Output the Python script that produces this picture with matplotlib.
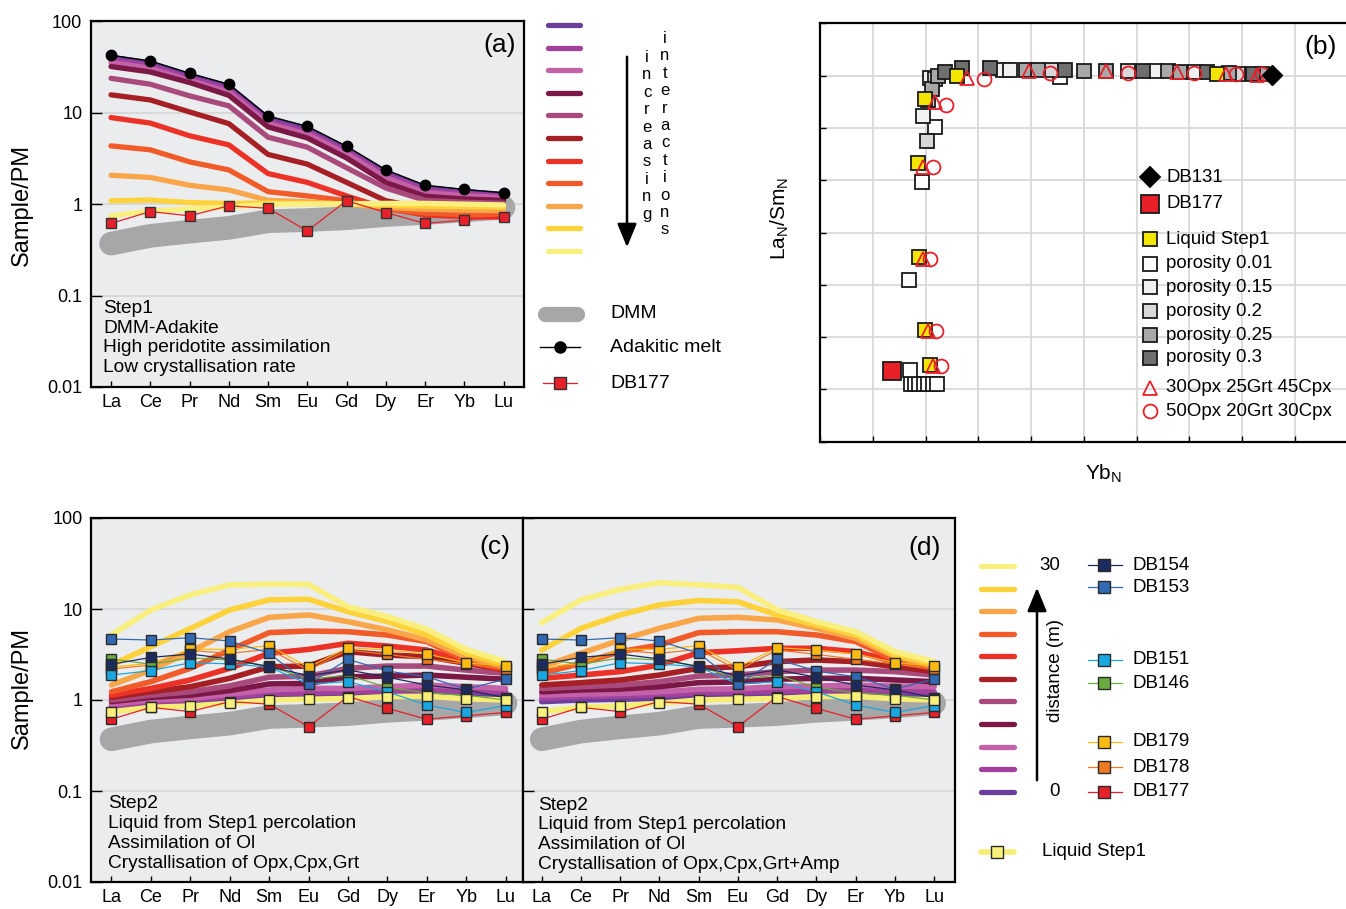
import matplotlib
matplotlib.use('Agg')
import matplotlib.pyplot as plt
from matplotlib.ticker import NullLocator

plt.rcParams['font.family'] = ['Liberation Sans', 'DejaVu Sans']
plt.rcParams['mathtext.fontset'] = 'custom'
plt.rcParams['mathtext.rm'] = 'Liberation Sans'

W, H = 1346, 909

ree = ['La', 'Ce', 'Pr', 'Nd', 'Sm', 'Eu', 'Gd', 'Dy', 'Er', 'Yb', 'Lu']

# ---- spider data (normalised to primitive mantle) ----
dmm = [0.37, 0.45, 0.50, 0.55, 0.65, 0.67, 0.70, 0.76, 0.80, 0.85, 0.92]
adakite = [42.5, 36.8, 27.0, 20.5, 9.2, 7.1, 4.3, 2.37, 1.61, 1.45, 1.33]
db177 = [0.615, 0.83, 0.745, 0.96, 0.90, 0.51, 1.09, 0.81, 0.615, 0.67, 0.73]
db178 = [2.19, 2.42, 3.5, 3.26, 3.6, 2.13, 3.54, 3.17, 2.8, 2.49, 2.17]
db179 = [2.3, 2.53, 3.6, 3.6, 3.95, 2.29, 3.76, 3.54, 3.2, 2.57, 2.36]
db146 = [2.82, 2.47, 2.9, 2.75, 2.36, 1.69, 1.88, 1.37, 1.2, 1.13, 1.0]
db151 = [1.88, 2.10, 2.57, 2.5, 2.3, 1.5, 1.59, 1.23, 0.88, 0.73, 0.87]
db153 = [4.68, 4.56, 4.84, 4.45, 3.26, 1.50, 2.80, 2.08, 1.80, 1.32, 1.69]
db154 = [2.47, 2.94, 3.2, 2.82, 2.32, 1.85, 2.14, 1.78, 1.46, 1.29, 1.06]
liquid_step1 = [0.744, 0.83, 0.86, 0.92, 1.0, 1.02, 1.04, 1.09, 1.1, 1.03, 1.0]

# model lines, ordered purple -> light yellow
step_colors = ['#6C3E9B', '#A1419B', '#C462A9', '#7B1846', '#A84A7C', '#A51F24',
               '#EC3226', '#F15A29', '#F9A64A', '#FED23A', '#F8EF7E']

step1 = [
    [40.5, 35.0, 25.6, 19.4, 8.7, 6.7, 4.05, 2.24, 1.52, 1.37, 1.28],
    [38.0, 32.8, 24.0, 18.0, 8.1, 6.2, 3.8, 2.1, 1.43, 1.30, 1.22],
    [35.5, 30.5, 22.5, 16.8, 7.6, 5.8, 3.55, 1.95, 1.34, 1.24, 1.17],
    [32.0, 27.9, 21.4, 15.5, 7.0, 5.3, 3.2, 1.72, 1.22, 1.14, 1.10],
    [23.8, 20.5, 15.3, 11.9, 5.4, 4.2, 2.5, 1.5, 1.1, 1.05, 1.02],
    [15.7, 13.8, 10.2, 7.6, 3.5, 2.74, 1.73, 1.09, 0.9, 0.84, 0.80],
    [8.85, 7.7, 5.6, 4.45, 2.16, 1.73, 1.23, 0.9, 0.76, 0.73, 0.72],
    [4.34, 3.93, 2.9, 2.37, 1.37, 1.23, 1.09, 0.88, 0.8, 0.77, 0.76],
    [2.07, 1.96, 1.61, 1.43, 1.1, 1.06, 1.0, 0.92, 0.88, 0.86, 0.85],
    [1.09, 1.11, 1.04, 1.02, 1.03, 1.02, 1.0, 0.97, 0.95, 0.94, 0.93],
    [0.745, 0.84, 0.88, 0.93, 0.99, 1.0, 1.01, 1.02, 1.02, 1.0, 0.98],
]

step2c = [
    [0.83, 0.9, 0.96, 1.02, 1.09, 1.1, 1.13, 1.15, 1.18, 1.15, 1.13],
    [0.87, 0.935, 1.0, 1.09, 1.18, 1.2, 1.23, 1.27, 1.29, 1.27, 1.23],
    [0.9, 1.0, 1.04, 1.16, 1.29, 1.34, 1.34, 1.4, 1.46, 1.4, 1.34],
    [0.96, 1.07, 1.13, 1.27, 1.5, 1.52, 1.8, 1.83, 1.88, 1.78, 1.69],
    [1.0, 1.13, 1.23, 1.43, 1.78, 1.83, 2.23, 2.36, 2.36, 2.13, 1.96],
    [1.07, 1.23, 1.4, 1.73, 2.32, 2.36, 3.4, 3.12, 2.99, 2.53, 2.13],
    [1.13, 1.34, 1.66, 2.23, 3.26, 3.6, 4.2, 3.92, 3.54, 2.64, 2.13],
    [1.23, 1.59, 2.23, 3.54, 5.5, 5.73, 5.63, 5.18, 4.38, 2.75, 2.23],
    [1.46, 2.13, 3.4, 5.63, 8.1, 8.6, 7.26, 5.9, 4.57, 3.0, 2.32],
    [2.42, 3.86, 6.1, 9.75, 12.6, 12.8, 9.35, 7.26, 5.18, 3.26, 2.42],
    [5.2, 9.75, 14.3, 18.4, 18.8, 18.6, 10.6, 8.24, 5.98, 3.6, 2.64],
]

step2d = [
    [0.96, 1.0, 1.02, 1.04, 1.09, 1.1, 1.13, 1.15, 1.16, 1.15, 1.13],
    [1.04, 1.09, 1.11, 1.13, 1.2, 1.22, 1.25, 1.27, 1.29, 1.27, 1.23],
    [1.13, 1.16, 1.18, 1.23, 1.31, 1.33, 1.4, 1.42, 1.46, 1.42, 1.4],
    [1.23, 1.29, 1.32, 1.4, 1.55, 1.58, 1.69, 1.73, 1.73, 1.66, 1.59],
    [1.34, 1.4, 1.46, 1.59, 1.83, 1.88, 2.05, 2.13, 2.13, 2.05, 1.88],
    [1.46, 1.55, 1.66, 1.88, 2.23, 2.32, 2.64, 2.75, 2.64, 2.32, 2.05],
    [1.73, 1.88, 2.05, 2.42, 3.31, 3.48, 3.7, 3.7, 3.4, 2.64, 2.23],
    [1.96, 2.53, 3.4, 4.02, 5.5, 5.63, 5.63, 5.18, 4.38, 2.75, 2.28],
    [2.32, 3.26, 4.56, 6.13, 7.9, 8.1, 7.57, 6.13, 4.76, 3.0, 2.36],
    [3.54, 6.13, 8.6, 11.1, 12.4, 12.0, 8.6, 6.67, 5.18, 3.12, 2.49],
    [7.08, 12.6, 16.4, 19.5, 18.4, 17.3, 9.75, 7.26, 5.63, 3.4, 2.64],
]

samples = ['DB177', 'DB178', 'DB179', 'DB146', 'DB151', 'DB153', 'DB154']
sample_vals = [db177, db178, db179, db146, db151, db153, db154]
sample_colors = ['#E8202A', '#EE7B23', '#FDBA12', '#6AAA3E', '#1AA7E1', '#3169B3', '#1C2B5E']

# ---- (b) LaN/SmN vs YbN, arbitrary grid units ----
tri_x = [2.14, 2.04, 1.95, 1.95, 2.17, 2.79, 3.96, 5.42, 6.77, 7.69, 8.28]
tri_y = [1.45, 2.11, 3.50, 5.25, 6.49, 6.95, 7.08, 7.08, 7.06, 7.04, 7.01]
cir_x = [2.28, 2.19, 2.09, 2.13, 2.39, 3.10, 4.35, 5.84, 7.08, 7.89, 8.38]
cir_y = [1.45, 2.11, 3.50, 5.25, 6.43, 6.93, 7.05, 7.05, 7.05, 7.03, 7.03]
liq_x = [2.08, 1.98, 1.87, 1.85, 1.98, 2.60, 7.53]
liq_y = [1.46, 2.13, 3.53, 5.32, 6.55, 7.00, 7.04]
p001_x = [1.72, 1.80, 1.88, 1.96, 2.05, 2.13, 2.22, 1.70, 1.69, 1.93, 2.17, 4.55]
p001_y = [1.11, 1.11, 1.11, 1.11, 1.11, 1.11, 1.11, 1.38, 3.09, 4.97, 6.02, 6.97]
p015_x = [1.95, 2.08, 3.47, 3.60, 6.36, 7.11]
p015_y = [6.23, 6.96, 7.10, 7.10, 7.08, 7.06]
p02_x = [2.02, 2.04, 2.17, 4.38, 5.84, 7.92]
p02_y = [5.74, 6.53, 6.93, 7.10, 7.08, 7.04]
p025_x = [2.11, 2.24, 3.90, 4.12, 5.00, 5.42, 6.59, 6.82, 7.76, 8.38]
p025_y = [6.74, 7.00, 7.10, 7.10, 7.09, 7.08, 7.08, 7.07, 7.05, 7.03]
p03_x = [2.37, 2.69, 3.21, 4.64, 6.13, 7.34, 8.21]
p03_y = [7.07, 7.14, 7.14, 7.10, 7.08, 7.06, 7.04]
db131_b = (8.57, 7.01)
db177_b = (1.36, 1.35)
porosity_cols = ['#FFFFFF', '#F1F1F1', '#D8D8D8', '#A8A8A8', '#6F6F6F']


def rect(l, t, r, b):
    return [l / W, 1 - b / H, (r - l) / W, (b - t) / H]


def spider(ax, xlim, ylabels=True):
    ax.set_facecolor('#EBECEE')
    ax.set_yscale('log')
    ax.set_ylim(0.01, 100)
    ax.set_xlim(*xlim)
    ax.set_xticks(range(11))
    ax.set_xticklabels(ree, fontsize=13)
    ax.set_yticks([0.01, 0.1, 1, 10, 100])
    ax.yaxis.set_minor_locator(NullLocator())
    if ylabels:
        ax.set_yticklabels(['0.01', '0.1', '1', '10', '100'], fontsize=13)
    else:
        ax.set_yticklabels([])
    for v in [0.1, 1, 10]:
        ax.axhline(v, color='#D5D6D8', lw=1.3, zorder=0.5)
    for s in ax.spines.values():
        s.set_linewidth(1.6)
    ax.tick_params(axis='x', direction='in', length=4, width=1, pad=5)
    ax.tick_params(axis='y', direction='in', length=8, width=1, pad=6)


fig = plt.figure(figsize=(W / 100, H / 100), dpi=100)
x = list(range(11))

# (a)
axa = fig.add_axes(rect(90.6, 21.3, 524, 387))
spider(axa, (-0.52, 10.52))
axa.plot(x, dmm, color='#A7A7A7', lw=17, solid_capstyle='round', zorder=1)
for vals, c in zip(step1, step_colors):
    axa.plot(x, vals, color=c, lw=3.8, solid_capstyle='round', zorder=2)
axa.plot(x, adakite, '-o', color='black', lw=1, ms=7.5, zorder=4)
axa.plot(x, db177, '-s', color='#E8202A', lw=0.9, ms=7, mec='#333333', mew=1, zorder=5)


def step2_panel(ax, lines):
    ax.plot(x, dmm, color='#A7A7A7', lw=17, solid_capstyle='round', zorder=1)
    for vals, c in zip(lines, step_colors):
        ax.plot(x, vals, color=c, lw=4, solid_capstyle='round', zorder=2)
    for vals, c in zip(sample_vals, sample_colors):
        ax.plot(x, vals, '-s', color=c, lw=0.9, ms=7, mec='#2A2A2A', mew=1, zorder=4)
    ax.plot(x, liquid_step1, color='#F6EE74', lw=4, solid_capstyle='round', zorder=3)
    ax.plot(x, liquid_step1, 's', mfc='#F8F07A', ms=7.5, mec='#2A2A2A', mew=1, zorder=5)


axc = fig.add_axes(rect(91, 518, 523.3, 882))
spider(axc, (-0.52, 10.45))
step2_panel(axc, step2c)

axd = fig.add_axes(rect(523.3, 518, 955, 882))
spider(axd, (-0.47, 10.53), ylabels=False)
step2_panel(axd, step2d)

# (b)
axb = fig.add_axes(rect(820.3, 23.3, 1347.5, 441.7))
axb.set_xlim(0, 10)
axb.set_ylim(0, 8)
axb.set_xticks(range(11))
axb.set_yticks(range(9))
axb.set_xticklabels([])
axb.set_yticklabels([])
axb.grid(True, color='#D9D9D9', lw=1.3)
axb.set_axisbelow(True)
axb.tick_params(direction='in', length=4, width=1)
for s in axb.spines.values():
    s.set_linewidth(1.6)
sq = dict(marker='s', ls='none', ms=9.8, mec='#1A1A1A', mew=1.3)
axb.plot(p001_x, p001_y, mfc=porosity_cols[0], **sq)
axb.plot(p015_x, p015_y, mfc=porosity_cols[1], **sq)
axb.plot(p02_x, p02_y, mfc=porosity_cols[2], **sq)
axb.plot(p025_x, p025_y, mfc=porosity_cols[3], **sq)
axb.plot(p03_x, p03_y, mfc=porosity_cols[4], **sq)
axb.plot(liq_x, liq_y, mfc='#F2E600', **sq)
axb.plot(tri_x, tri_y, '^', ls='none', ms=10, mfc='none', mec='#E8202A', mew=1.3)
axb.plot(cir_x, cir_y, 'o', ls='none', ms=10, mfc='none', mec='#E8202A', mew=1.3)
axb.plot(*db131_b, 'D', ms=10, color='black')
axb.plot(*db177_b, 's', ms=12.5, mfc='#E8202A', mec='#1A1A1A', mew=1.3)

# overlay in pixel coordinates for legends and labels
ov = fig.add_axes([0, 0, 1, 1])
ov.set_xlim(0, W)
ov.set_ylim(H, 0)
ov.axis('off')
ov.patch.set_alpha(0)

ov.text(22, 205, 'Sample/PM', rotation=90, ha='center', va='center', fontsize=17)
ov.text(22, 688, 'Sample/PM', rotation=90, ha='center', va='center', fontsize=17)
ov.text(500, 45, '(a)', ha='center', va='center', fontsize=19)
ov.text(1321, 47, '(b)', ha='center', va='center', fontsize=19)
ov.text(495, 547, '(c)', ha='center', va='center', fontsize=19)
ov.text(925, 548, '(d)', ha='center', va='center', fontsize=19)

for i, t in enumerate(['Step1', 'DMM-Adakite', 'High peridotite assimilation',
                       'Low crystallisation rate']):
    ov.text(103, 308.3 + i * 19.8, t, ha='left', va='center', fontsize=13.8)
for i, t in enumerate(['Step2', 'Liquid from Step1 percolation', 'Assimilation of Ol',
                       'Crystallisation of Opx,Cpx,Grt']):
    ov.text(108, 804 + i * 19.8, t, ha='left', va='center', fontsize=13.8)
for i, t in enumerate(['Step2', 'Liquid from Step1 percolation', 'Assimilation of Ol',
                       'Crystallisation of Opx,Cpx,Grt+Amp']):
    ov.text(538, 805 + i * 19.8, t, ha='left', va='center', fontsize=13.8)

# legend (a)
for i, c in enumerate(step_colors):
    yy = 25 + i * 22.6
    ov.plot([548, 580], [yy, yy], color=c, lw=3.8, solid_capstyle='round')
ov.annotate('', xy=(627, 250), xytext=(627, 54),
            arrowprops=dict(arrowstyle='-|>,head_length=0.8,head_width=0.33',
                            color='black', lw=1.8, mutation_scale=18))
ov.text(647, 50, '\n'.join('increasing'), ha='center', va='top', fontsize=12, linespacing=1.2)
ov.text(665, 31, '\n'.join('interactions'), ha='center', va='top', fontsize=12, linespacing=1.2)
ov.plot([545, 577], [314, 314], color='#A7A7A7', lw=11, solid_capstyle='round')
ov.text(610, 314, 'DMM', ha='left', va='center', fontsize=14)
ov.plot([540, 580], [347, 347], color='black', lw=1)
ov.plot([560], [347], 'o', color='black', ms=8)
ov.text(610, 347, 'Adakitic melt', ha='left', va='center', fontsize=14)
ov.plot([543, 577], [383, 383], color='#E8202A', lw=0.9)
ov.plot([560], [383], 's', mfc='#E8202A', mec='#333333', ms=8)
ov.text(610, 383, 'DB177', ha='left', va='center', fontsize=14)

# legend (b)
bl = [('D', 'black', 'black', 10, 'DB131', 177),
      ('s', '#E8202A', '#1A1A1A', 12.5, 'DB177', 203.5),
      ('s', '#F2E600', '#1A1A1A', 9.8, 'Liquid Step1', 239),
      ('s', porosity_cols[0], '#1A1A1A', 9.8, 'porosity 0.01', 263.5),
      ('s', porosity_cols[1], '#1A1A1A', 9.8, 'porosity 0.15', 287),
      ('s', porosity_cols[2], '#1A1A1A', 9.8, 'porosity 0.2', 311),
      ('s', porosity_cols[3], '#1A1A1A', 9.8, 'porosity 0.25', 335),
      ('s', porosity_cols[4], '#1A1A1A', 9.8, 'porosity 0.3', 357.5),
      ('^', 'none', '#E8202A', 10, '30Opx 25Grt 45Cpx', 388),
      ('o', 'none', '#E8202A', 10, '50Opx 20Grt 30Cpx', 411)]
for m, fc, ec, ms, lab, yy in bl:
    ov.plot([1150], [yy], m, mfc=fc, mec=ec, ms=ms, mew=1.3)
    ov.text(1166, yy, lab, ha='left', va='center', fontsize=13.4)
ov.text(1104, 474, r'Yb$_{\mathregular{N}}$', ha='center', va='center', fontsize=15)
ov.text(780, 218, r'La$_{\mathregular{N}}$/Sm$_{\mathregular{N}}$', rotation=90,
        ha='center', va='center', fontsize=15)

# legend (c)/(d)
for i, c in enumerate(step_colors[::-1]):
    yy = 566 + i * 22.57
    ov.plot([981, 1014], [yy, yy], color=c, lw=3.8, solid_capstyle='round')
ov.text(1050, 566, '30', ha='center', va='center', fontsize=13.5)
ov.text(1055, 792, '0', ha='center', va='center', fontsize=13.5)
ov.annotate('', xy=(1037, 585), xytext=(1037, 783),
            arrowprops=dict(arrowstyle='-|>,head_length=0.8,head_width=0.33',
                            color='black', lw=1.8, mutation_scale=18))
ov.text(1055, 670, 'distance (m)', rotation=90, ha='center', va='center', fontsize=13.5)
leg_y = [791.7, 767, 741.7, 683.3, 660, 587.3, 565]
for lab, c, yy in zip(samples, sample_colors, leg_y):
    ov.plot([1088, 1122], [yy, yy], color=c, lw=0.9)
    ov.plot([1104], [yy], 's', mfc=c, mec='#2A2A2A', ms=9, mew=1)
    ov.text(1133, yy, lab, ha='left', va='center', fontsize=13.5)
ov.plot([981, 1014], [851.7, 851.7], color='#F6EE74', lw=4, solid_capstyle='round')
ov.plot([997], [851.7], 's', mfc='#F8F07A', mec='#2A2A2A', ms=9, mew=1)
ov.text(1041.7, 851.7, 'Liquid Step1', ha='left', va='center', fontsize=13.5)

fig.savefig('out.png', dpi=100)
